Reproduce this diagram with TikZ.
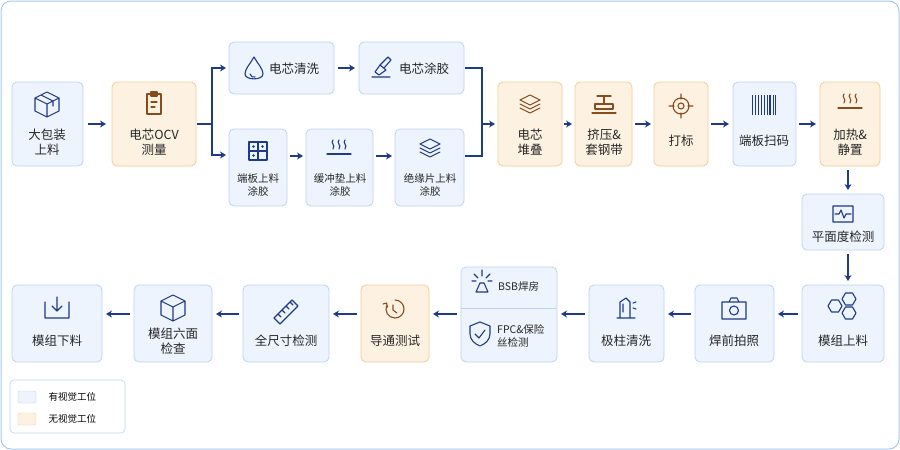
\documentclass[tikz,border=0pt]{standalone}
\usepackage{fontspec}
\setmainfont{Noto Sans CJK SC}
\usetikzlibrary{arrows.meta}
\definecolor{bluefill}{HTML}{EEF4FD}
\definecolor{blueline}{HTML}{BCD3F2}
\definecolor{orfill}{HTML}{FDF2E2}
\definecolor{orline}{HTML}{F4CC96}
\definecolor{navy}{HTML}{1E3A8A}
\definecolor{brown}{HTML}{8A4B1C}
\definecolor{frame}{HTML}{A9C8F0}
\tikzset{
  vis/.style={draw=blueline, fill=bluefill, rounded corners=5pt, line width=0.8pt},
  novis/.style={draw=orline, fill=orfill, rounded corners=5pt, line width=0.8pt},
  lbl/.style={font=\fontsize{12.5}{15}\selectfont, text=black!85, align=center, inner sep=0pt},
  small/.style={font=\fontsize{10.5}{13.5}\selectfont, text=black!85, align=center, inner sep=0pt},
  flow/.style={draw=navy, line width=1.4pt, -{Stealth[length=6pt,width=7pt]}},
  line/.style={draw=navy, line width=1.4pt},
  icon/.style={draw=navy, line width=1.1pt, line join=round, line cap=round},
  iconb/.style={draw=brown, line width=1.1pt, line join=round, line cap=round}
}
\begin{document}
\begin{tikzpicture}[x=1pt, y=-1pt]
  \useasboundingbox (0,0) rectangle (900,450);
  %% frame
  \draw[frame, line width=1pt, rounded corners=10pt, fill=white] (1,1) rectangle (899,449);

  %% row 1
  \draw[vis]   (12,82)  rectangle (83,166);
  \draw[novis] (112,82) rectangle (196,166);
  \draw[vis]   (229,42) rectangle (334,94);
  \draw[vis]   (359,42) rectangle (464,94);
  \draw[vis]   (229,129) rectangle (287,206);
  \draw[vis]   (306,129) rectangle (373,206);
  \draw[vis]   (395,129) rectangle (464,206);
  \draw[novis] (498,82) rectangle (562,166);
  \draw[novis] (575,82) rectangle (632,166);
  \draw[novis] (654,82) rectangle (708,166);
  \draw[vis]   (733,82) rectangle (796,166);
  \draw[novis] (820,82) rectangle (880,166);
  \draw[vis]   (802,194) rectangle (884,250);
  %% row 3
  \draw[vis]   (802,285) rectangle (884,362);
  \draw[vis]   (695,285) rectangle (774,362);
  \draw[vis]   (589,285) rectangle (664,362);
  \draw[vis]   (461,267) rectangle (557,362);
  \draw[blueline, line width=0.8pt] (461,308) -- (557,308);
  \draw[novis] (361,285) rectangle (429,362);
  \draw[vis]   (243,285) rectangle (329,362);
  \draw[vis]   (134,285) rectangle (212,362);
  \draw[vis]   (12,285) rectangle (102,362);

  %% labels
  \node[lbl] (tPack) at (47,142) {大包装\\上料};
  \node[lbl] (tOcv) at (154,142) {电芯OCV\\测量};
  \node[lbl, anchor=west] (tWash) at (269,69) {电芯清洗};
  \node[lbl, anchor=west] (tGlue) at (399,69) {电芯涂胶};
  \node[small] (tEnd) at (258,185) {端板上料\\涂胶};
  \node[small] (tBuf) at (340,185) {缓冲垫上料\\涂胶};
  \node[small] (tIns) at (430,185) {绝缘片上料\\涂胶};
  \node[lbl] (tStack) at (530,142) {电芯\\堆叠};
  \node[lbl] (tPress) at (604,142) {挤压\&\\套钢带};
  \node[lbl] (tMark) at (681,141) {打标};
  \node[lbl] (tScan) at (764,141) {端板扫码};
  \node[lbl] (tHeat) at (850,142) {加热\&\\静置};
  \node[lbl] (tFlat) at (843,237) {平面度检测};
  \node[lbl] (tModIn) at (843,341) {模组上料};
  \node[lbl] (tPhoto) at (734,341) {焊前拍照};
  \node[lbl] (tPole) at (626,341) {极柱清洗};
  \node[small, anchor=west] (tBsb) at (498,287) {BSB焊房};
  \node[small, anchor=west, align=left] (tFpc) at (497,336) {FPC\&保险\\丝检测};
  \node[lbl] (tCond) at (395,341) {导通测试};
  \node[lbl] (tSize) at (286,341) {全尺寸检测};
  \node[lbl] (tSix) at (173,341) {模组六面\\检查};
  \node[lbl] (tOut) at (57,341) {模组下料};

  %% connectors
  \draw[flow] (88,124) -- (106,124);
  \draw[line] (197,124) -- (212,124);
  \draw[line] (212,67) -- (212,155);
  \draw[flow] (212,68) -- (226,68);
  \draw[flow] (211,155) -- (226,155);
  \draw[flow] (338,68) -- (355,68);
  \draw[flow] (290,156) -- (303,156);
  \draw[flow] (376,156) -- (392,156);
  \draw[line] (465,68) -- (482,68) -- (482,156) -- (465,156);
  \draw[flow] (482,124) -- (495,124);
  \draw[flow] (564,124) -- (572,124);
  \draw[flow] (635,124) -- (651,124);
  \draw[flow] (711,124) -- (729,124);
  \draw[flow] (799,124) -- (816,124);
  \draw[flow] (848,170) -- (848,190);
  \draw[flow] (848,254) -- (848,281);
  \draw[flow] (798,314) -- (778,314);
  \draw[flow] (691,314) -- (668,314);
  \draw[flow] (585,314) -- (561,314);
  \draw[flow] (457,314) -- (433,314);
  \draw[flow] (357,314) -- (333,314);
  \draw[flow] (239,314) -- (216,314);
  \draw[flow] (130,314) -- (106,314);

  %% icons
  % package
  \draw[icon] (47,92) -- (59,98) -- (59,111) -- (47,117) -- (35,111) -- (35,98) -- cycle
    (35,98) -- (47,104) -- (59,98) (47,104) -- (47,117) (41,95) -- (53,101) -- (53,106);
  % clipboard
  \draw[iconb] (147,94) rectangle (161,114) (151,92) rectangle (157,96) (151,102) -- (157,102) (151,107) -- (155,107);
  % drop
  \draw[icon] (254,57) .. controls (250,64) and (245,69) .. (245,74) .. controls (245,80.5) and (263,80.5) .. (263,74) .. controls (263,69) and (258,64) .. (254,57) -- cycle;
  \draw[icon] (250,74) .. controls (251,77) and (253,77.5) .. (255,77);
  % brush
  \draw[icon] (372,77) -- (390,77) (375,72) -- (380,65) -- (386,70) -- (379,75) -- cycle (380,65) -- (388,57) -- (391,60) -- (384,68);
  % grid
  \draw[icon] (249,142) rectangle (267,160) (258,142) -- (258,160) (249,151) -- (267,151);
  \fill[navy] (253.5,146.5) circle (1.3) (262.5,146.5) circle (1.3) (253.5,155.5) circle (1.3);
  % heat waves (buffer, heat)
  \foreach \cx/\cy/\st in {339/152/icon, 850/106/iconb} {
    \foreach \dx in {-6,0,6}
      \draw[\st] (\cx+\dx,\cy-12) .. controls (\cx+\dx-3,\cy-9) and (\cx+\dx+3,\cy-7) .. (\cx+\dx,\cy-3);
    \draw[\st] (\cx-12,\cy+2) -- (\cx+12,\cy+2);
  }
  % layers (insulation, stack)
  \foreach \cx/\cy/\st in {430/148/icon, 530/104/iconb} {
    \draw[\st] (\cx,\cy-9) -- (\cx+10,\cy-4) -- (\cx,\cy+1) -- (\cx-10,\cy-4) -- cycle;
    \draw[\st] (\cx-10,\cy) -- (\cx,\cy+5) -- (\cx+10,\cy);
    \draw[\st] (\cx-10,\cy+4) -- (\cx,\cy+9) -- (\cx+10,\cy+4);
  }
  % press
  \draw[iconb] (597,96) -- (611,96) (604,96) -- (604,104) (595,104) rectangle (613,109) (592,113) -- (616,113);
  % target
  \draw[iconb] (681,106) circle (8) (681,106) circle (3) (681,94) -- (681,99) (681,113) -- (681,118) (669,106) -- (674,106) (688,106) -- (693,106);
  % barcode
  \foreach \bx/\bw in {752/1.4, 755/0.8, 757.5/1.8, 761/0.8, 763.5/1.4, 766.5/0.8, 769/1.8, 772.5/0.8, 775/1.4}
    \fill[navy] (\bx,95) rectangle ++(\bw,20);
  % monitor
  \draw[icon] (833,206) rectangle (853,222) (835,214) -- (839,214) -- (841,210) -- (844,218) -- (846,214) -- (851,214);
  % hexagons
  \foreach \hx/\hy in {835/306, 849/299, 849/313}
    \draw[icon] (\hx+7,\hy) -- (\hx+3.5,\hy+6) -- (\hx-3.5,\hy+6) -- (\hx-7,\hy) -- (\hx-3.5,\hy-6) -- (\hx+3.5,\hy-6) -- cycle;
  % camera
  \draw[icon] (722,302) rectangle (746,319) (729,302) -- (731,298) -- (737,298) -- (739,302) (734,310.5) circle (4.5);
  % pole
  \draw[icon] (617,318) -- (635,318) (620,318) -- (620,302) -- (626,298) -- (630,302) -- (630,318) (623,304) -- (623,312) (633,303) -- (636,302) (633,308) -- (636,309);
  % spark
  \draw[icon] (476,292) -- (480,283) -- (484,283) -- (488,292) -- cycle (482,270) -- (482,276) (474,274) -- (478,278) (490,274) -- (486,278) (472,281) -- (476,281) (488,281) -- (492,281);
  % shield
  \draw[icon] (480,322) -- (490,326) -- (490,334) .. controls (490,340) and (485,344) .. (480,346) .. controls (475,344) and (470,340) .. (470,334) -- (470,326) -- cycle (475,334) -- (479,338) -- (485,330);
  % rotate
  \draw[iconb] (395,300) arc[start angle=-90, end angle=200, radius=9];
  \draw[iconb] (383,304) -- (386.5,303) -- (387.5,307);
  \draw[iconb] (393,305) -- (393,310) -- (397,313);
  % ruler
  \draw[icon] (274,318) -- (292,300) -- (298,306) -- (280,324) -- cycle (282,310) -- (285,313) (286,306) -- (289,309) (278,314) -- (281,317) (290,302) -- (293,305);
  % cube
  \draw[icon] (173,295) -- (185,301) -- (185,315) -- (173,321) -- (161,315) -- (161,301) -- cycle (161,301) -- (173,307) -- (185,301) (173,307) -- (173,321);
  % download
  \draw[icon] (45,302) -- (45,318) -- (69,318) -- (69,302) (57,297) -- (57,311) (52,306) -- (57,311) -- (62,306);

  %% legend
  \draw[blueline, line width=0.6pt, rounded corners=4pt, fill=white] (10,380) rectangle (125,433);
  \fill[bluefill, draw=blueline, rounded corners=2pt] (18,391) rectangle (36,403);
  \fill[orfill, draw=orline, rounded corners=2pt] (18,413) rectangle (36,425);
  \node[font=\fontsize{9.5}{11}\selectfont, anchor=west] (lgVis) at (45,397) {有视觉工位};
  \node[font=\fontsize{9.5}{11}\selectfont, anchor=west] (lgNo) at (45,419) {无视觉工位};
\end{tikzpicture}
\end{document}
